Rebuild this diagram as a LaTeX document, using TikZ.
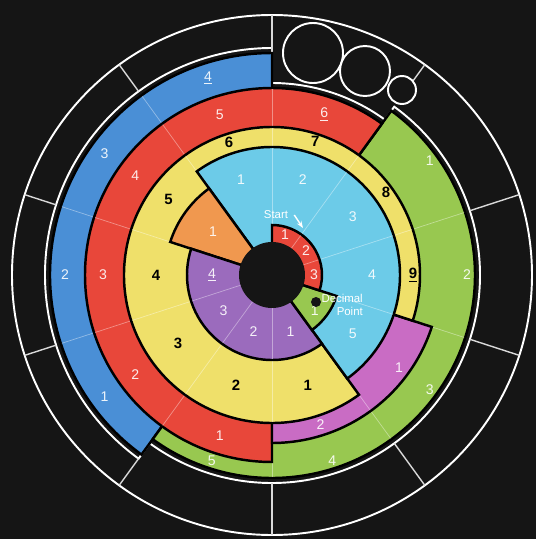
\documentclass[tikz,border=0pt]{standalone}
\usepackage{fontspec}
\setmainfont{Liberation Sans}
\usetikzlibrary{arrows.meta}
\definecolor{bgdark}{HTML}{151515}
\definecolor{piblue}{HTML}{4A8FD6}
\definecolor{pired}{HTML}{E8473A}
\definecolor{pigreen}{HTML}{98C850}
\definecolor{piyellow}{HTML}{EFE06A}
\definecolor{picyan}{HTML}{6CCBE8}
\definecolor{pipurple}{HTML}{9B6BBD}
\definecolor{piorange}{HTML}{F0984F}
\definecolor{pipink}{HTML}{C96CC4}
\begin{document}
\begin{tikzpicture}[
    x=.02cm, y=.02cm,
    seg/.style={draw=black,line width=1.4pt},
    cut/.style={white,opacity=.4,line width=.4pt},
    rim/.style={white,line width=1.1pt},
    tick/.style={white!85!black,line width=.8pt},
    lab/.style={text=white,text opacity=.9,font=\fontsize{8}{9}\selectfont},
    ylab/.style={text=black,font=\fontsize{8.5}{9}\selectfont\bfseries},
    note/.style={text=white,font=\fontsize{6.5}{7}\selectfont}]
    \fill[bgdark] (-272,-264) rectangle (264,275);
    % outer band
    \draw[rim] (0,0) circle[radius=260];
    \draw[rim] (234:227) arc[start angle=234,end angle=90,radius=227]
        -- (90:192) arc[start angle=90,end angle=54,radius=192]
        -- (54:208) arc[start angle=54,end angle=-126,radius=208] -- cycle;
    \foreach \a/\r in {90/192,54/240,18/208,-18/208,-54/208,-90/208,
        -126/227,198/227,162/227,126/227}
        \draw[tick] (\a:\r) -- (\a:260);
    \draw[rim,fill=bgdark] (41,222) circle[radius=30];
    \draw[rim,fill=bgdark] (93,204) circle[radius=25];
    \draw[rim,fill=bgdark] (130,185) circle[radius=14];
    % digit blocks, outermost first
    \filldraw[seg,fill=piblue] (0,0) -- (234:222)
        arc[start angle=234,end angle=90,radius=222] -- cycle;
    \foreach \i in {1,2,3} \draw[cut] (0,0) -- ({234-36*\i}:221);
    \filldraw[seg,fill=pigreen] (0,0) -- (54:203)
        arc[start angle=54,end angle=-126,radius=203] -- cycle;
    \foreach \i in {1,...,4} \draw[cut] (0,0) -- ({54-36*\i}:202);
    \filldraw[seg,fill=pired] (0,0) -- (-90:187)
        arc[start angle=-90,end angle=-306,radius=187] -- cycle;
    \foreach \i in {1,...,5} \draw[cut] (0,0) -- ({-90-36*\i}:186);
    \filldraw[seg,fill=pipink] (0,0) -- (-18:168)
        arc[start angle=-18,end angle=-90,radius=168] -- cycle;
    \draw[cut] (0,0) -- (-54:167);
    \filldraw[seg,fill=piyellow] (0,0) -- (-54:148)
        arc[start angle=-54,end angle=-378,radius=148] -- cycle;
    \foreach \i in {1,...,8} \draw[cut] (0,0) -- ({-54-36*\i}:147);
    \filldraw[seg,fill=picyan] (0,0) -- (126:128)
        arc[start angle=126,end angle=-54,radius=128] -- cycle;
    \foreach \i in {1,...,4} \draw[cut] (0,0) -- ({126-36*\i}:127);
    \filldraw[seg,fill=piorange] (0,0) -- (162:107)
        arc[start angle=162,end angle=126,radius=107] -- cycle;
    \filldraw[seg,fill=pipurple] (0,0) -- (-54:85)
        arc[start angle=-54,end angle=-198,radius=85] -- cycle;
    \foreach \i in {1,2,3} \draw[cut] (0,0) -- ({-54-36*\i}:84);
    \filldraw[seg,fill=pigreen] (0,0) -- (-18:68)
        arc[start angle=-18,end angle=-54,radius=68] -- cycle;
    \filldraw[seg,fill=pired] (0,0) -- (90:50)
        arc[start angle=90,end angle=-18,radius=50] -- cycle;
    \foreach \i in {1,2} \draw[cut] (0,0) -- ({90-36*\i}:49);
    \fill[bgdark] (0,0) circle[radius=33];
    % digit labels
    \foreach \i/\t in {1/1,2/2,3/3,4/\underline{4}}
        \node[lab] (blue-\i) at ({252-36*\i}:207) {\t};
    \foreach \i in {1,...,5}
        \node[lab] (green-\i) at ({72-36*\i}:195) {\i};
    \foreach \i/\t in {1/1,2/2,3/3,4/4,5/5,6/\underline{6}}
        \node[lab] (red-\i) at ({-72-36*\i}:169) {\t};
    \foreach \i in {1,2}
        \node[lab] (pink-\i) at ({-36*\i}:157) {\i};
    \foreach \i/\r/\t in {1/116/1,2/116/2,3/116/3,4/116/4,5/128/5,
        6/139/6,7/140/7,8/141/8,9/141/\underline{9}}
        \node[ylab] (yellow-\i) at ({-36-36*\i}:\r) {\t};
    \foreach \i in {1,...,5}
        \node[lab] (cyan-\i) at ({144-36*\i}:100) {\i};
    \node[lab] (orange-1) at (144:73) {1};
    \foreach \i/\t in {1/1,2/2,3/3,4/\underline{4}}
        \node[lab] (purple-\i) at ({-36-36*\i}:60) {\t};
    \node[lab] (green1-1) at (-40:56) {1};
    \foreach \i in {1,2,3}
        \node[lab] (redstart-\i) at ({108-36*\i}:42) {\i};
    % start and decimal point
    \node[note] (start) at (4,60) {Start};
    \coordinate (arrowtip) at (31,47);
    \draw[white,line width=.8pt,-{Stealth[length=4pt]}] (start.east) -- (arrowtip);
    \fill[bgdark] (44,-27) circle[radius=5];
    \node[note,anchor=east,align=right] (decimal) at (97,-30) {Decimal\\Point};
\end{tikzpicture}
\end{document}
